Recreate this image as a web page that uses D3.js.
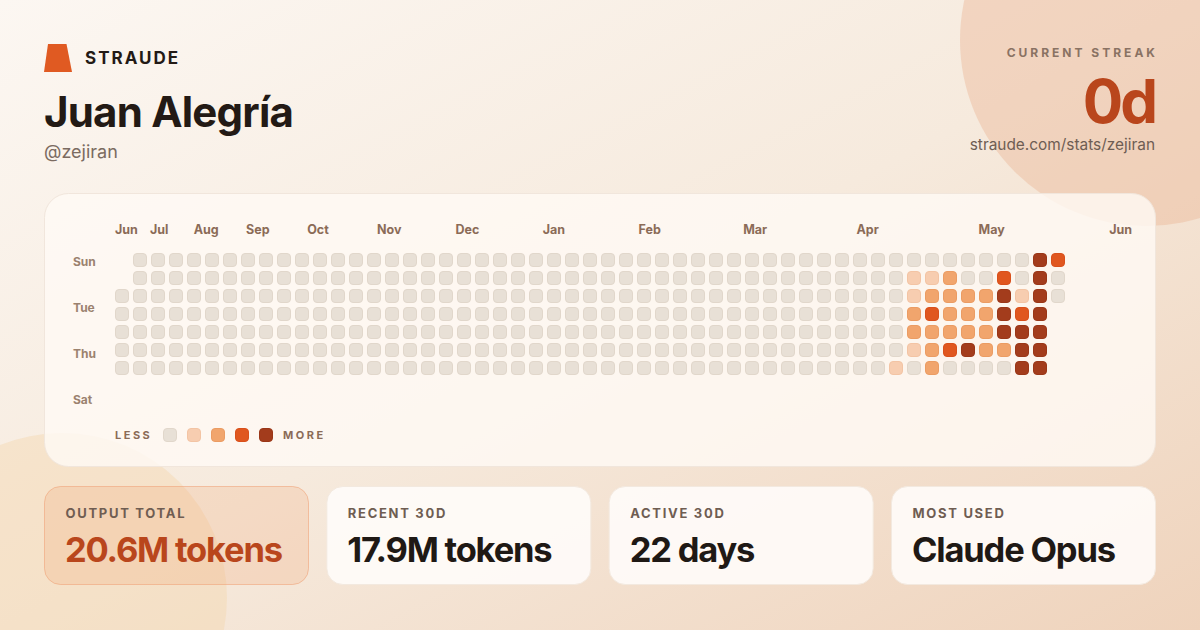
<!DOCTYPE html>
<html>
<head>
<meta charset="utf-8">
<script src="https://cdn.jsdelivr.net/npm/d3@7"></script>
<style>
  html, body { margin: 0; padding: 0; background: #f7ede3; }
  svg { display: block; font-family: Inter, "Noto Sans", sans-serif; }
</style>
</head>
<body>
<div id="chart"></div>
<script>
// ---------- data ----------
const userName = "Juan Alegría";
const userHandle = "@zejiran";
const brand = "STRAUDE";
const streakLabel = "CURRENT STREAK";
const streakValue = "0d";
const profileUrl = "straude.com/stats/zejiran";

const monthLabels = ["Jun", "Jul", "Aug", "Sep", "Oct", "Nov", "Dec", "Jan", "Feb", "Mar", "Apr", "May", "Jun"];
const dayLabels = ["Sun", "Tue", "Thu", "Sat"];
const legendLevels = [0, 1, 2, 3, 4];

const totalWeeks = 53;
const firstWeekStartDay = 2;   // first column begins on Tuesday
const lastWeekDays = 3;        // last column holds Sun, Mon, Tue
const firstActiveWeek = 43;
// activity level (0-4) per weekday Sun..Sat, for weeks 43..52
const recentWeekLevels = [
  [0, 0, 0, 0, 0, 0, 1],
  [0, 1, 1, 2, 2, 1, 0],
  [0, 1, 2, 3, 2, 2, 2],
  [0, 2, 2, 2, 2, 3, 0],
  [0, 0, 2, 2, 2, 4, 0],
  [0, 0, 2, 2, 2, 2, 0],
  [0, 3, 4, 4, 4, 2, 0],
  [0, 0, 1, 3, 4, 4, 4],
  [4, 4, 4, 4, 4, 4, 4],
  [3, 0, 0]
];

const statLabels = ["OUTPUT TOTAL", "RECENT 30D", "ACTIVE 30D", "MOST USED"];
const statValues = ["20.6M tokens", "17.9M tokens", "22 days", "Claude Opus"];

// ---------- build cells ----------
const cells = [];
for (let w = 0; w < totalWeeks; w++) {
  const startD = w === 0 ? firstWeekStartDay : 0;
  const endD = w === totalWeeks - 1 ? lastWeekDays : 7;
  for (let d = startD; d < endD; d++) {
    let level = 0;
    if (w >= firstActiveWeek) level = recentWeekLevels[w - firstActiveWeek][d] || 0;
    cells.push({ week: w, day: d, level });
  }
}

// ---------- drawing ----------
const W = 1200, H = 630;
const svg = d3.select("#chart").append("svg").attr("width", W).attr("height", H);
const defs = svg.append("defs");

const bg = defs.append("linearGradient").attr("id", "bg").attr("x1", 0).attr("y1", 0).attr("x2", 1).attr("y2", 1);
bg.append("stop").attr("offset", "0%").attr("stop-color", "#fcf7f2");
bg.append("stop").attr("offset", "50%").attr("stop-color", "#f6eadd");
bg.append("stop").attr("offset", "100%").attr("stop-color", "#efd3bc");

svg.append("rect").attr("width", W).attr("height", H).attr("fill", "url(#bg)");

// decorative circles
svg.append("circle").attr("cx", 1146).attr("cy", 40).attr("r", 186)
  .attr("fill", "#eab898").attr("opacity", 0.45);
svg.append("circle").attr("cx", 62).attr("cy", 598).attr("r", 165)
  .attr("fill", "#f5d6b0").attr("opacity", 0.45);

// header
svg.append("path")
  .attr("d", "M48,44 L66.5,44 L72,72 L44,72 Z")
  .attr("fill", "#e05a22");
svg.append("text").attr("x", 85).attr("y", 63.5).text(brand)
  .attr("font-size", 17).attr("font-weight", 700).attr("letter-spacing", 2)
  .attr("fill", "#231a15");
svg.append("text").attr("x", 44).attr("y", 127).text(userName)
  .attr("font-size", 42).attr("font-weight", 700).attr("letter-spacing", -0.8)
  .attr("fill", "#231a15");
svg.append("text").attr("x", 44).attr("y", 157.5).text(userHandle)
  .attr("font-size", 18).attr("fill", "#7b6b61");

svg.append("text").attr("x", 1158).attr("y", 57).text(streakLabel)
  .attr("text-anchor", "end").attr("font-size", 12).attr("font-weight", 700)
  .attr("letter-spacing", 3).attr("fill", "#8a7263");
svg.append("text").attr("x", 1155).attr("y", 122.5).text(streakValue)
  .attr("text-anchor", "end").attr("font-size", 60).attr("font-weight", 700)
  .attr("letter-spacing", -3).attr("fill", "#b9461c");
svg.append("text").attr("x", 1155).attr("y", 149.5).text(profileUrl)
  .attr("text-anchor", "end").attr("font-size", 15.4).attr("fill", "#6e5d53");

// chart card
svg.append("rect").attr("x", 44.5).attr("y", 193.5).attr("width", 1111).attr("height", 273)
  .attr("rx", 24).attr("fill", "#fffaf5").attr("fill-opacity", 0.8)
  .attr("stroke", "#f1e6dc").attr("stroke-width", 1);

// scales
const cellSize = 14, pitch = 18;
const x = d3.scaleLinear().domain([0, totalWeeks - 1]).range([115, 115 + (totalWeeks - 1) * pitch]);
const y = d3.scaleLinear().domain([0, 6]).range([253, 253 + 6 * pitch]);
const color = d3.scaleOrdinal().domain(legendLevels)
  .range(["#e8e0d6", "#f7cdb0", "#f1a56d", "#e0571f", "#a33c1c"]);
const strokeColor = d3.scaleOrdinal().domain(legendLevels)
  .range(["#e1d7cb", "#f3c4a4", "#eb9c63", "#d9501b", "#9a3718"]);

// month labels (spacing widens progressively across the row)
const monthPos = i => 115 + 30.65 * i + 4.35 * i * i;
svg.append("g").selectAll("text").data(monthLabels).join("text")
  .attr("x", (d, i) => monthPos(i))
  .attr("y", 234)
  .attr("font-size", 12.5).attr("font-weight", 700).attr("fill", "#8b6b57")
  .text(d => d);

// day labels
const dayY = d3.scaleLinear().domain([0, 3]).range([265.5, 403.5]);
svg.append("g").selectAll("text").data(dayLabels).join("text")
  .attr("x", 73).attr("y", (d, i) => dayY(i))
  .attr("font-size", 12).attr("font-weight", 700).attr("fill", "#9b826f")
  .text(d => d);

// cells
svg.append("g").selectAll("rect").data(cells).join("rect")
  .attr("x", d => x(d.week) + 0.5).attr("y", d => y(d.day) + 0.5)
  .attr("width", cellSize - 1).attr("height", cellSize - 1)
  .attr("rx", 3.5)
  .attr("fill", d => color(d.level))
  .attr("stroke", d => strokeColor(d.level)).attr("stroke-width", 1);

// legend
svg.append("text").attr("x", 115).attr("y", 439).text("LESS")
  .attr("font-size", 11).attr("font-weight", 700).attr("letter-spacing", 2.5).attr("fill", "#8b6b57");
const legendX = d3.scaleLinear().domain([0, 4]).range([163, 259]);
svg.append("g").selectAll("rect").data(legendLevels).join("rect")
  .attr("x", d => legendX(d) + 0.5).attr("y", 428.5)
  .attr("width", cellSize - 1).attr("height", cellSize - 1).attr("rx", 3.5)
  .attr("fill", d => color(d)).attr("stroke", d => strokeColor(d));
svg.append("text").attr("x", 283).attr("y", 439).text("MORE")
  .attr("font-size", 11).attr("font-weight", 700).attr("letter-spacing", 2.5).attr("fill", "#8b6b57");

// stat cards
const cardX = d3.scaleLinear().domain([0, 3]).range([44, 891]);
const cardW = 265, cardH = 99, cardY = 486;
const cards = svg.append("g").selectAll("g").data(statLabels).join("g")
  .attr("transform", (d, i) => `translate(${cardX(i)},${cardY})`);
cards.append("rect")
  .attr("x", 0.5).attr("y", 0.5).attr("width", cardW - 1).attr("height", cardH - 1).attr("rx", 16)
  .attr("fill", (d, i) => i === 0 ? "#ef9a66" : "#fffcf9")
  .attr("fill-opacity", (d, i) => i === 0 ? 0.2 : 0.9)
  .attr("stroke", (d, i) => i === 0 ? "#ee9f72" : "#f3e9df")
  .attr("stroke-opacity", (d, i) => i === 0 ? 0.55 : 1);
cards.append("text").attr("x", 21.5).attr("y", 32)
  .attr("font-size", 13).attr("font-weight", 700).attr("letter-spacing", 1.7)
  .attr("fill", "#6f5d52").text(d => d);
cards.append("text").attr("x", 21).attr("y", 75.5)
  .attr("font-size", 34.5).attr("font-weight", 700).attr("letter-spacing", -1.2)
  .attr("fill", (d, i) => i === 0 ? "#b9461c" : "#1f1915")
  .text((d, i) => statValues[i]);
</script>
</body>
</html>
